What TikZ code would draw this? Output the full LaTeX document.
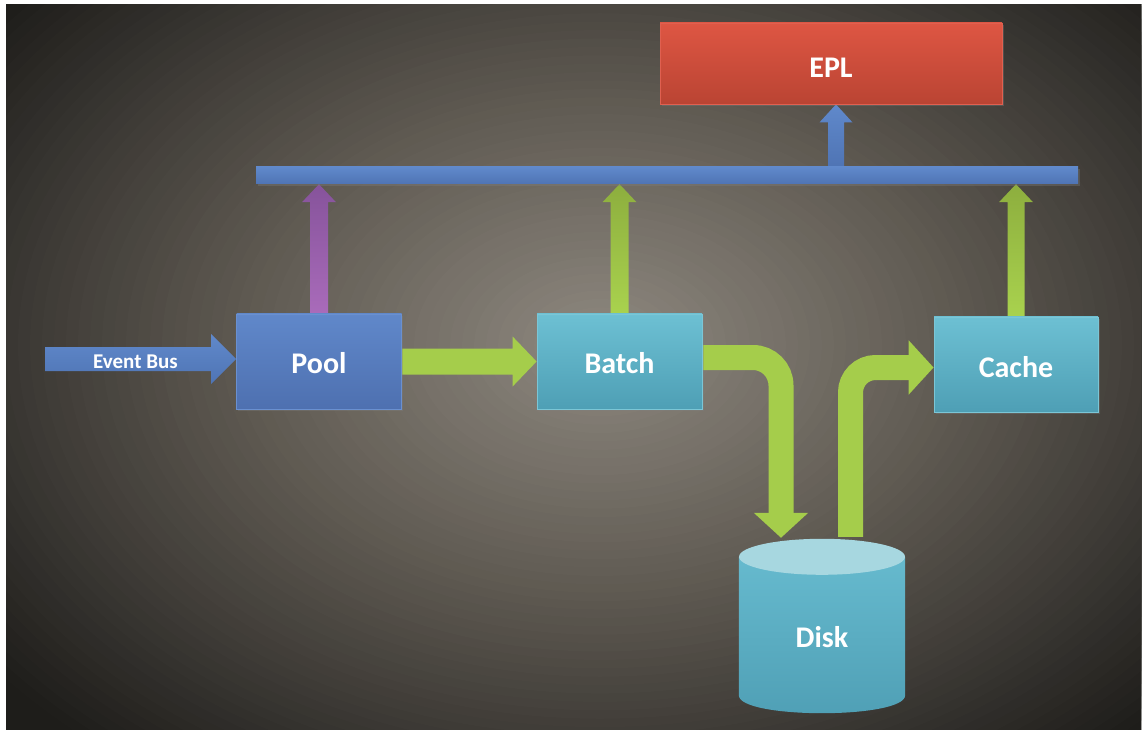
\documentclass[tikz,border=0pt]{standalone}
\usepackage{fontspec}
\setmainfont{Carlito}
\usetikzlibrary{calc,arrows.meta,shadows}

% palette
\definecolor{bgA}{HTML}{8F8980}
\definecolor{bgB}{HTML}{5D5850}
\definecolor{bgC}{HTML}{3A3733}
\definecolor{bgD}{HTML}{1E1D1A}
\definecolor{poolT}{HTML}{6088CA}
\definecolor{poolB}{HTML}{4E70B0}
\definecolor{poolE}{HTML}{6A90D0}
\definecolor{tealT}{HTML}{6DC0D3}
\definecolor{tealB}{HTML}{4E9FB5}
\definecolor{tealE}{HTML}{7BC6D6}
\definecolor{eplT}{HTML}{DE5643}
\definecolor{eplB}{HTML}{BA4433}
\definecolor{eplE}{HTML}{E06050}
\definecolor{busT}{HTML}{6089CB}
\definecolor{busB}{HTML}{4F74B4}
\definecolor{grn}{HTML}{A5CD4B}
\definecolor{grnT}{HTML}{8DAE3E}
\definecolor{grnB}{HTML}{A9D24E}
\definecolor{purT}{HTML}{86539B}
\definecolor{purB}{HTML}{A96BBA}
\definecolor{diskTop}{HTML}{A7D7E0}
\definecolor{diskT}{HTML}{66BACE}
\definecolor{diskB}{HTML}{4F9FB5}

\pgfdeclarelayer{bg}
\pgfsetlayers{bg,main}

% text whose baseline sits a given distance below the node centre
\newcommand\lift[2]{\smash{\raisebox{-#1}{#2}}}

% block arrow pointing up: from, to, shaft half width, head half width, head length, style
\newcommand\blkup[6]{%
  \path[#6] let \p1=(#1), \p2=(#1|-#2) in
    (\x1-#3,\y1) -- (\x1-#3,\y2-#5) -- (\x1-#4,\y2-#5) -- (\x2,\y2)
    -- (\x1+#4,\y2-#5) -- (\x1+#3,\y2-#5) -- (\x1+#3,\y1) -- cycle;}
% block arrow pointing right: from, to, shaft half width, head half width, head length, style
\newcommand\blkright[6]{%
  \path[#6] let \p1=(#1), \p2=(#2|-#1) in
    (\x1,\y1-#3) -- (\x2-#5,\y1-#3) -- (\x2-#5,\y1-#4) -- (\x2,\y1)
    -- (\x2-#5,\y1+#4) -- (\x2-#5,\y1+#3) -- (\x1,\y1+#3) -- cycle;}

\begin{document}
\begin{tikzpicture}[x=1pt,y=-1pt,
  box/.style={rectangle, inner sep=0pt, minimum width=165pt, minimum height=95pt,
    text=white, font=\fontsize{30}{36}\selectfont\bfseries, line width=0.8pt,
    drop shadow={shadow xshift=1.5pt, shadow yshift=-2pt, opacity=0.35}},
  poolbox/.style={box, top color=poolT, bottom color=poolB, draw=poolE},
  tealbox/.style={box, top color=tealT, bottom color=tealB, draw=tealE},
  eplbox/.style={box, minimum width=342pt, minimum height=81pt,
    top color=eplT, bottom color=eplB, draw=eplE},
  busbar/.style={rectangle, inner sep=0pt, minimum width=822pt, minimum height=17pt,
    top color=busT, bottom color=busB,
    drop shadow={shadow xshift=1.5pt, shadow yshift=-2pt, opacity=0.35}},
  lbl/.style={text=white, font=\fontsize{30}{36}\selectfont\bfseries},
  smalllbl/.style={text=white, font=\fontsize{21}{25}\selectfont\bfseries},
  bent/.style={draw=grn, line width=25pt,
    -{Triangle[width=53pt,length=25pt]}},
]
\useasboundingbox (0,0) rectangle (1144,730);
\begin{pgfonlayer}{bg}
  \fill[white] (0,0) rectangle (1144,730);
  % backdrop: light glow in the middle fading to dark corners
  \begin{scope}
    \clip (6,5) rectangle (1141,730);
    \fill[bgD] (6,5) rectangle (1141,730);
    \foreach \k in {0,...,67} {
      \pgfmathsetmacro\s{1.35-0.02*\k}
      \ifdim\s pt>0.99pt
        \pgfmathtruncatemacro\p{min(100,100*(\s-0.99)/0.29)}
        \colorlet{ring}{bgD!\p!bgC}
      \else\ifdim\s pt>0.62pt
        \pgfmathtruncatemacro\p{100*(\s-0.62)/0.37}
        \colorlet{ring}{bgC!\p!bgB}
      \else
        \pgfmathtruncatemacro\p{100*\s/0.62}
        \colorlet{ring}{bgB!\p!bgA}
      \fi\fi
      \fill[ring] (600,345) ellipse [x radius=\s*600, y radius=\s*420];
    }
  \end{scope}
\end{pgfonlayer}

% nodes
\node[eplbox] (epl) at (831,63.5) {\lift{14pt}{EPL}};
\node[busbar] (bar) at (667,175.5) {};
\node[poolbox] (pool) at (319,361.5) {\lift{12.5pt}{Pool}};
\node[tealbox] (batch) at (619.5,361.5) {\lift{12.5pt}{Batch}};
\node[tealbox, minimum width=164pt] (cache) at (1016,364.5) {\lift{12.5pt}{Cache}};
\node[inner sep=0pt, minimum width=166pt, minimum height=174pt] (disk) at (822,626) {};

% disk cylinder
\shade[top color=diskT, bottom color=diskB]
  let \p1=(disk.north west), \p2=(disk.south east) in
  (\x1,\y1-18pt) -- (\x1,\y2+18pt) .. controls (\x1,\y2-6pt) and (\x2,\y2-6pt) ..
  (\x2,\y2+18pt) -- (\x2,\y1-18pt) -- cycle;
\fill[diskTop] ($(disk.north)+(0,18)$) ellipse [x radius=83, y radius=18];
\node[lbl] (disklbl) at ($(disk.center)+(0,10)$) {\lift{11pt}{Disk}};

% start of the event bus
\coordinate (evsrc) at (45,359);

\begin{pgfonlayer}{bg}
  % inputs to the bus bar
  \blkup{pool.north}{bar.south}{9pt}{17pt}{18pt}{top color=purT, bottom color=purB}
  \blkup{batch.north}{bar.south}{9pt}{17pt}{18pt}{top color=grnT, bottom color=grnB}
  \blkup{cache.north}{bar.south}{8.5pt}{17pt}{18pt}{top color=grnT, bottom color=grnB}
  % bus bar to EPL
  \coordinate (eplin) at ($(epl.south)+(5,0)$);
  \coordinate (busout) at (eplin|-bar.north);
  \blkup{busout}{eplin}{8pt}{16.5pt}{18pt}{top color=busT, bottom color=busB}
  % event bus into the pool
  \blkright{evsrc}{pool.west}{12pt}{25pt}{25pt}{top color=busT, bottom color=busB}
  % pool to batch
  \blkright{pool.east}{batch.west}{13pt}{25pt}{24pt}{fill=grn}
  % batch down to disk, disk up to cache
  \coordinate (dtip) at ($(disk.north)+(-41,-1)$);
  \coordinate (dout) at ($(disk.north)+(28.5,-2)$);
  \draw[bent, rounded corners=28pt] ($(batch.east)+(0,-4)$) -| (dtip);
  \draw[bent, rounded corners=25pt] (dout) |- ($(cache.west)+(0,3)$);
\end{pgfonlayer}

\node[smalllbl] (evlbl) at (135.5,361) {\lift{7pt}{Event Bus}};
\end{tikzpicture}
\end{document}
